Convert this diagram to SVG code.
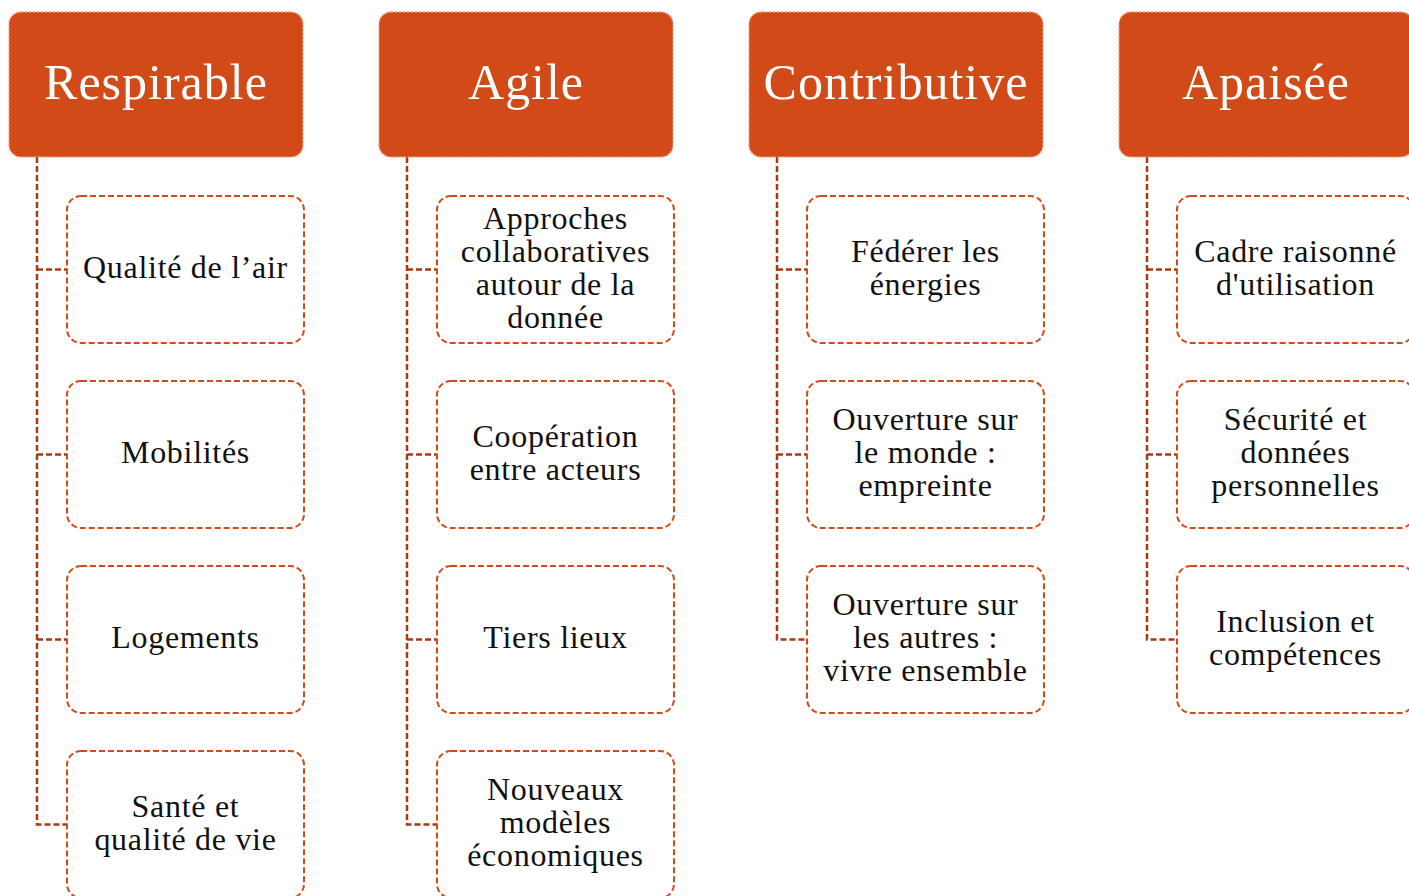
<svg xmlns="http://www.w3.org/2000/svg" width="1409" height="896" viewBox="0 0 1409 896">
<style>
.hdr{fill:#D24A18;stroke:#F2A27E;stroke-width:1.5;stroke-dasharray:2 2}
.ht{font-family:"Liberation Serif","Times New Roman",serif;font-size:50px;fill:#FFFFFF;text-anchor:middle;letter-spacing:1px}
.box{fill:#FFFFFF;stroke:#D24A18;stroke-width:2;stroke-dasharray:6 3}
.bt{font-family:"Liberation Serif","Times New Roman",serif;font-size:32px;fill:#111111;text-anchor:middle;letter-spacing:0.7px}
.con{fill:none;stroke:#A83A12;stroke-width:2.5;stroke-dasharray:6 3}
</style>
<g id="connectors">
<path class="con" d="M37,157 V824.5 H67 M37,269.5 H67 M37,454.5 H67 M37,639.5 H67"/>
<path class="con" d="M407,157 V824.5 H437 M407,269.5 H437 M407,454.5 H437 M407,639.5 H437"/>
<path class="con" d="M777,157 V639.5 H807 M777,269.5 H807 M777,454.5 H807"/>
<path class="con" d="M1147,157 V639.5 H1177 M1147,269.5 H1177 M1147,454.5 H1177"/>
</g>
<g id="h-respirable"><rect class="hdr" x="9" y="12" width="294" height="145" rx="12"/><text class="ht" x="156" y="99">Respirable</text></g>
<g id="h-agile"><rect class="hdr" x="379" y="12" width="294" height="145" rx="12"/><text class="ht" x="526" y="99">Agile</text></g>
<g id="h-contributive"><rect class="hdr" x="749" y="12" width="294" height="145" rx="12"/><text class="ht" x="896" y="99">Contributive</text></g>
<g id="h-apaisee"><rect class="hdr" x="1119" y="12" width="294" height="145" rx="12"/><text class="ht" x="1266" y="99">Apaisée</text></g>

<g id="n-qualite-air"><rect class="box" x="67" y="196" width="237" height="147" rx="14"/><text class="bt" x="185.5" y="278">Qualité de l’air</text></g>
<g id="n-mobilites"><rect class="box" x="67" y="381" width="237" height="147" rx="14"/><text class="bt" x="185.5" y="463">Mobilités</text></g>
<g id="n-logements"><rect class="box" x="67" y="566" width="237" height="147" rx="14"/><text class="bt" x="185.5" y="648">Logements</text></g>
<g id="n-sante"><rect class="box" x="67" y="751" width="237" height="147" rx="14"/><text class="bt" x="185.5" y="816.5"><tspan x="185.5">Santé et</tspan><tspan x="185.5" dy="33">qualité de vie</tspan></text></g>

<g id="n-approches"><rect class="box" x="437" y="196" width="237" height="147" rx="14"/><text class="bt" x="555.5" y="228.5"><tspan x="555.5">Approches</tspan><tspan x="555.5" dy="33">collaboratives</tspan><tspan x="555.5" dy="33">autour de la</tspan><tspan x="555.5" dy="33">donnée</tspan></text></g>
<g id="n-cooperation"><rect class="box" x="437" y="381" width="237" height="147" rx="14"/><text class="bt" x="555.5" y="446.5"><tspan x="555.5">Coopération</tspan><tspan x="555.5" dy="33">entre acteurs</tspan></text></g>
<g id="n-tiers-lieux"><rect class="box" x="437" y="566" width="237" height="147" rx="14"/><text class="bt" x="555.5" y="648">Tiers lieux</text></g>
<g id="n-nouveaux"><rect class="box" x="437" y="751" width="237" height="147" rx="14"/><text class="bt" x="555.5" y="800"><tspan x="555.5">Nouveaux</tspan><tspan x="555.5" dy="33">modèles</tspan><tspan x="555.5" dy="33">économiques</tspan></text></g>

<g id="n-federer"><rect class="box" x="807" y="196" width="237" height="147" rx="14"/><text class="bt" x="925.5" y="261.5"><tspan x="925.5">Fédérer les</tspan><tspan x="925.5" dy="33">énergies</tspan></text></g>
<g id="n-monde"><rect class="box" x="807" y="381" width="237" height="147" rx="14"/><text class="bt" x="925.5" y="430"><tspan x="925.5">Ouverture sur</tspan><tspan x="925.5" dy="33">le monde :</tspan><tspan x="925.5" dy="33">empreinte</tspan></text></g>
<g id="n-autres"><rect class="box" x="807" y="566" width="237" height="147" rx="14"/><text class="bt" x="925.5" y="615"><tspan x="925.5">Ouverture sur</tspan><tspan x="925.5" dy="33">les autres :</tspan><tspan x="925.5" dy="33">vivre ensemble</tspan></text></g>

<g id="n-cadre"><rect class="box" x="1177" y="196" width="237" height="147" rx="14"/><text class="bt" x="1295.5" y="261.5"><tspan x="1295.5">Cadre raisonné</tspan><tspan x="1295.5" dy="33">d'utilisation</tspan></text></g>
<g id="n-securite"><rect class="box" x="1177" y="381" width="237" height="147" rx="14"/><text class="bt" x="1295.5" y="430"><tspan x="1295.5">Sécurité et</tspan><tspan x="1295.5" dy="33">données</tspan><tspan x="1295.5" dy="33">personnelles</tspan></text></g>
<g id="n-inclusion"><rect class="box" x="1177" y="566" width="237" height="147" rx="14"/><text class="bt" x="1295.5" y="631.5"><tspan x="1295.5">Inclusion et</tspan><tspan x="1295.5" dy="33">compétences</tspan></text></g>
</svg>
